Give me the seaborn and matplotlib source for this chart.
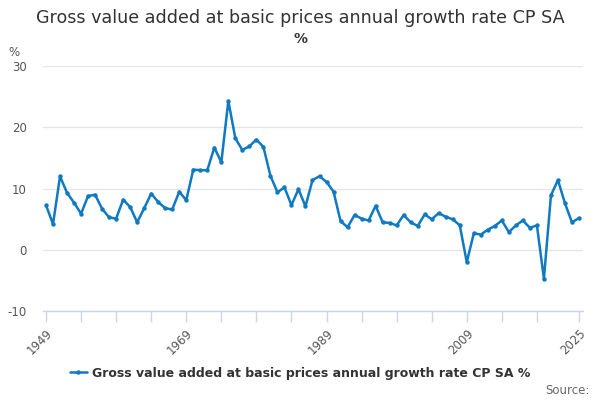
import matplotlib
matplotlib.use("Agg")
import matplotlib.pyplot as plt
import seaborn as sns
import pandas as pd
from matplotlib.lines import Line2D

years = list(range(1949, 2026))
growth = [7.3, 4.2, 12.0, 9.3, 7.7, 5.9, 8.8, 9.0, 6.7, 5.3,
          5.1, 8.2, 7.0, 4.5, 6.8, 9.2, 7.8, 6.8, 6.6, 9.5,
          8.1, 13.1, 13.0, 13.0, 16.7, 14.3, 24.3, 18.2, 16.3, 16.9,
          18.0, 16.8, 12.1, 9.4, 10.2, 7.3, 9.9, 7.1, 11.4, 12.0,
          11.1, 9.5, 4.7, 3.7, 5.7, 5.1, 4.8, 7.2, 4.5, 4.4,
          4.0, 5.7, 4.5, 3.9, 5.8, 5.0, 6.0, 5.4, 5.0, 4.0,
          -2.0, 2.7, 2.5, 3.3, 3.9, 4.8, 2.9, 4.0, 4.8, 3.6,
          4.0, -4.7, 8.9, 11.4, 7.6, 4.5, 5.2]
series_name = "Gross value added at basic prices annual growth rate CP SA %"
title_line1 = "Gross value added at basic prices annual growth rate CP SA"
title_line2 = "%"
tick_years = list(range(1949, 2020, 5)) + [2025]
label_years = [1949, 1969, 1989, 2009, 2025]
y_ticks = [-10, 0, 10, 20, 30]

df = pd.DataFrame({"year": years, "value": growth, "series": series_name})

sns.set_theme(style="white")
plt.rcParams['font.family'] = ['DejaVu Sans']

fig = plt.figure(figsize=(6, 4), dpi=100)
ax = fig.add_axes([0.072, 0.222, 0.900, 0.613])

line_color = "#0f7ac2"
sns.lineplot(data=df, x="year", y="value", hue="series", palette=[line_color],
             marker="o", markersize=3.2, markeredgewidth=0, linewidth=1.8, ax=ax,
             legend=False)

ax.set_xlim(1948.6, 2025.6)
ax.set_ylim(-10, 30)
ax.set_yticks(y_ticks)
ax.set_yticklabels([str(v) for v in y_ticks], color="#555555", fontsize=8.5)
ax.yaxis.grid(True, color="#e6e6e6", linewidth=1)
ax.xaxis.grid(False)
ax.tick_params(axis="y", length=0, pad=12)

ax.set_xticks(tick_years)
ax.set_xticklabels([str(y) if y in label_years else "" for y in tick_years],
                   rotation=45, ha="right", rotation_mode="anchor",
                   color="#555555", fontsize=8.5)
ax.tick_params(axis="x", length=8, width=1, color="#ccd6eb", pad=3, bottom=True)

for s in ["top", "right", "left"]:
    ax.spines[s].set_visible(False)
ax.spines["bottom"].set_color("#ccd6eb")
ax.spines["bottom"].set_linewidth(1)

ax.set_xlabel("")
ax.set_ylabel("")

fig.text(0.5, 0.955, title_line1, ha="center", va="center", fontsize=12.6,
         color="#333333")
fig.text(0.5, 0.903, title_line2, ha="center", va="center", fontsize=10,
         color="#333333", fontweight="bold")
fig.text(0.023, 0.868, "%", ha="center", va="center", fontsize=8.5, color="#555555")

handle = Line2D([], [], color=line_color, linewidth=1.8, marker="o", markersize=3.2,
                markeredgewidth=0)
fig.legend([handle], [series_name], loc="center", bbox_to_anchor=(0.5, 0.067),
           frameon=False, prop={"weight": "bold", "size": 9.0}, handlelength=1.4,
           handletextpad=0.4, labelcolor="#333333")

fig.text(0.982, 0.025, "Source:", ha="right", va="center", fontsize=8.5,
         color="#666666")

fig.savefig("out.png", dpi=100)
